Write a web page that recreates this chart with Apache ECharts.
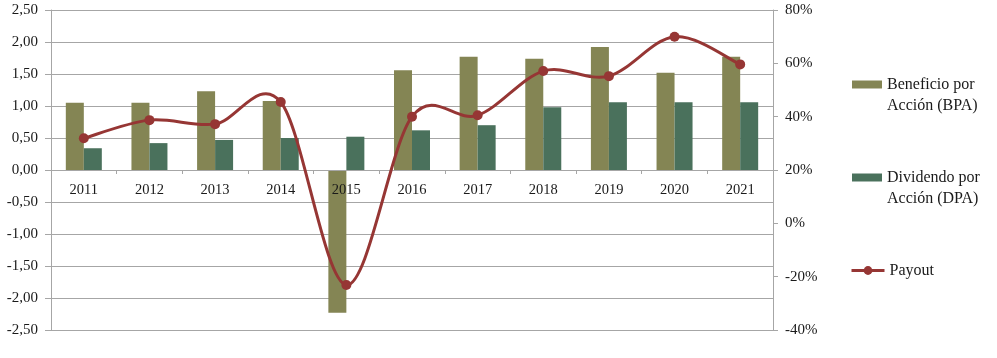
<!DOCTYPE html>
<html>
<head>
<meta charset="utf-8">
<script src="https://cdn.jsdelivr.net/npm/echarts@6/dist/echarts.min.js"></script>
<style>html,body{margin:0;padding:0;background:#fff}#c{width:997px;height:358px}</style>
</head>
<body>
<div id="c"></div>
<script>
const categories = ['2011','2012','2013','2014','2015','2016','2017','2018','2019','2020','2021'];
const bpa = [1.05, 1.05, 1.23, 1.08, -2.23, 1.56, 1.77, 1.74, 1.92, 1.52, 1.77];
const dpa = [0.34, 0.42, 0.47, 0.50, 0.52, 0.62, 0.70, 0.98, 1.06, 1.06, 1.06];
const payout = [31.9, 38.7, 37.2, 45.5, -23.1, 40.0, 40.5, 57.1, 55.2, 70.0, 59.6];
const seriesNames = ['Beneficio por\nAcción (BPA)', 'Dividendo por\nAcción (DPA)', 'Payout'];

const FONT = '"Liberation Serif", "DejaVu Serif", serif';
const GRID = '#A6A6A6';
const TXT = '#1a1a1a';
const RED = '#963634';
const legendText = { fontFamily: FONT, fontSize: 16, color: TXT, lineHeight: 21 };

// Excel-like smooth line (Catmull-Rom Bezier), each item draws the segment to the next point
function renderSmooth(params, api) {
  const i = params.dataIndex;
  const n = payout.length;
  if (i >= n - 1) return null;
  const P = k => api.coord([Math.max(0, Math.min(n - 1, k)), payout[Math.max(0, Math.min(n - 1, k))]]);
  const p0 = P(i - 1), p1 = P(i), p2 = P(i + 1), p3 = P(i + 2);
  const t = 1 / 6;
  return {
    type: 'bezierCurve',
    shape: {
      x1: p1[0], y1: p1[1],
      cpx1: p1[0] + (p2[0] - p0[0]) * t, cpy1: p1[1] + (p2[1] - p0[1]) * t,
      cpx2: p2[0] - (p3[0] - p1[0]) * t, cpy2: p2[1] - (p3[1] - p1[1]) * t,
      x2: p2[0], y2: p2[1]
    },
    style: { stroke: RED, lineWidth: 3, fill: null, lineCap: 'round' }
  };
}

const chart = echarts.init(document.getElementById('c'));
chart.setOption({
  animation: false,
  textStyle: { fontFamily: FONT, color: TXT },
  grid: { left: 51, right: 224, top: 10, bottom: 28, containLabel: false },
  legend: [
    { data: [seriesNames[0]], left: 847, top: 48, icon: 'rect', itemWidth: 30, itemHeight: 8, itemGap: 0,
      formatter: n => ' \n' + n, textStyle: legendText },
    { data: [seriesNames[1]], left: 847, top: 141, icon: 'rect', itemWidth: 30, itemHeight: 8, itemGap: 0,
      formatter: n => ' \n' + n, textStyle: legendText },
    { data: [{ name: seriesNames[2], lineStyle: { color: RED, width: 3, opacity: 1 } }],
      left: 845, top: 255, itemWidth: 33, itemHeight: 11, itemGap: 0,
      textStyle: legendText }
  ],
  xAxis: {
    type: 'category',
    data: categories,
    z: 3,
    offset: -160,
    axisLine: { onZero: false, lineStyle: { color: GRID, width: 1 } },
    axisTick: { show: true, length: 4, lineStyle: { color: GRID } },
    axisLabel: { fontFamily: FONT, fontSize: 14.5, color: TXT, margin: 13 },
    splitLine: { show: false }
  },
  yAxis: [
    {
      type: 'value', min: -2.5, max: 2.5, interval: 0.5,
      axisLine: { show: true, lineStyle: { color: GRID } },
      axisTick: { show: true, length: 6, lineStyle: { color: GRID } },
      axisLabel: { fontFamily: FONT, fontSize: 15, color: TXT, margin: 13,
        formatter: v => v.toFixed(2).replace('.', ',') },
      splitLine: { show: true, lineStyle: { color: GRID, width: 1 } }
    },
    {
      type: 'value', min: -40, max: 80, interval: 20, position: 'right',
      axisLine: { show: true, lineStyle: { color: GRID } },
      axisTick: { show: true, length: 5, lineStyle: { color: GRID } },
      axisLabel: { fontFamily: FONT, fontSize: 15, color: TXT, margin: 12, formatter: '{value}%' },
      splitLine: { show: false }
    }
  ],
  series: [
    { name: seriesNames[0], type: 'bar', data: bpa, barWidth: 18, barGap: '0%',
      itemStyle: { color: '#848554' }, z: 2 },
    { name: seriesNames[1], type: 'bar', data: dpa, barWidth: 18, barGap: '0%',
      itemStyle: { color: '#4A715C' }, z: 2 },
    { name: 'payoutCurve', type: 'custom', yAxisIndex: 1, silent: true, z: 5,
      data: payout.map((v, i) => [i, v]), encode: { x: 0, y: 1 }, renderItem: renderSmooth },
    { name: seriesNames[2], type: 'line', yAxisIndex: 1, data: payout,
      symbol: 'circle', symbolSize: 10,
      lineStyle: { color: RED, width: 3, opacity: 0 },
      itemStyle: { color: RED }, z: 6 }
  ]
});
</script>
</body>
</html>
